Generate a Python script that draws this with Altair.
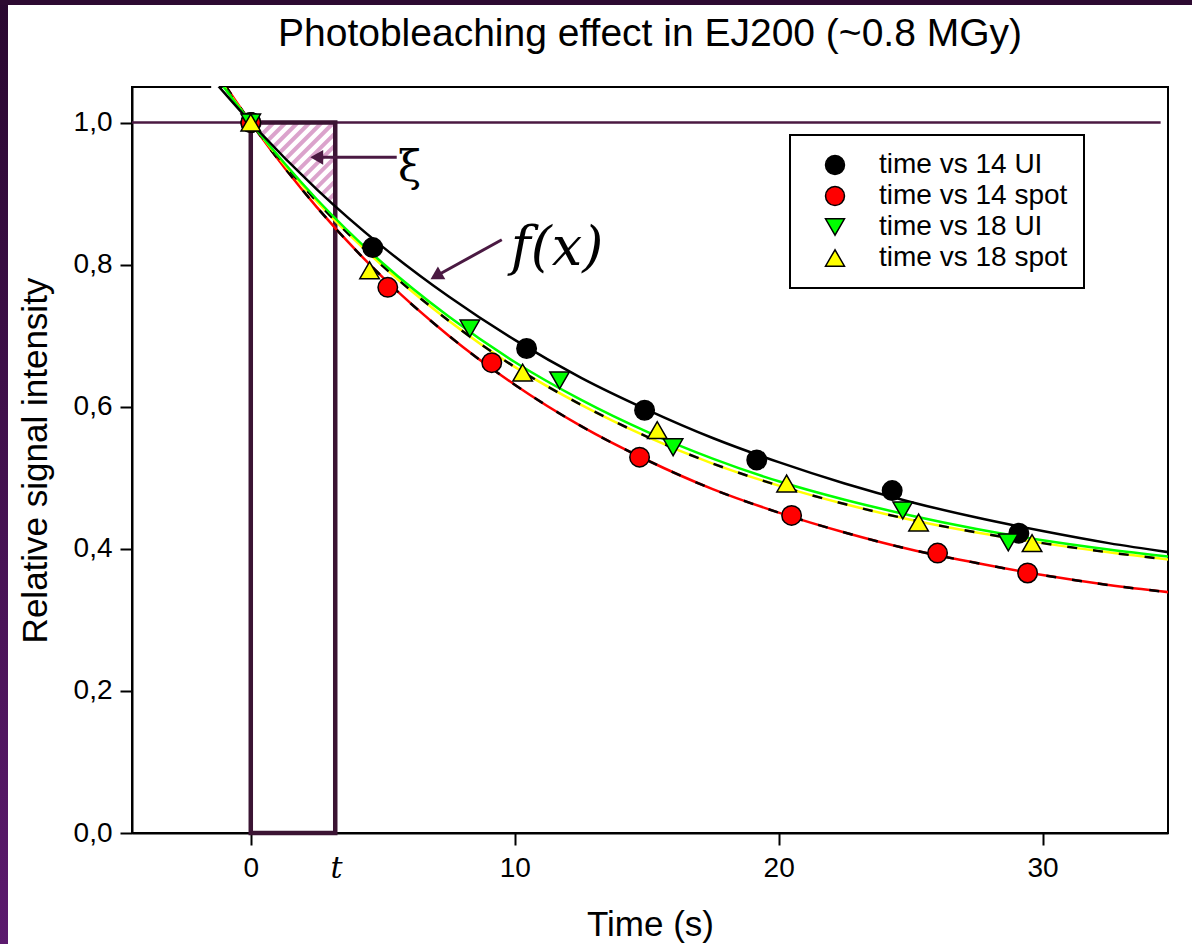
import numpy as np
import pandas as pd
import altair as alt

# ---------------- data ----------------
series_names = ["time vs 14 UI", "time vs 14 spot", "time vs 18 UI", "time vs 18 spot"]
marker_fills = ["#000000", "#ff0000", "#00ff00", "#ffff00"]
marker_shapes = ["circle", "circle", "triangle-down", "triangle-up"]

t_14ui = [0, 4.62, 10.45, 14.92, 19.17, 24.3, 29.1]
v_14ui = [1.0, 0.824, 0.682, 0.595, 0.525, 0.482, 0.422]
t_14spot = [0, 5.19, 9.13, 14.73, 20.49, 26.02, 29.43]
v_14spot = [1.0, 0.768, 0.662, 0.529, 0.447, 0.394, 0.366]
t_18ui = [0, 8.3, 11.7, 16.0, 24.7, 28.7]
v_18ui = [1.0, 0.710, 0.637, 0.543, 0.454, 0.409]
t_18spot = [0, 4.5, 10.3, 15.4, 20.3, 25.3, 29.6]
v_18spot = [1.0, 0.792, 0.648, 0.567, 0.492, 0.437, 0.408]

# fitted curves
fit_t = [-1.5, 0, 2.5, 5, 7.5, 10, 12.5, 15, 17.5, 20, 22.5, 25, 27.5, 30, 32.5, 35]
fit_14ui = [1.063, 1.0, 0.906, 0.825, 0.755, 0.694, 0.641, 0.596, 0.556, 0.522, 0.492, 0.466, 0.444, 0.425, 0.408, 0.394]
fit_14spot = [1.082, 1.0, 0.881, 0.782, 0.700, 0.631, 0.573, 0.525, 0.484, 0.451, 0.423, 0.399, 0.380, 0.363, 0.349, 0.338]
fit_18ui = [1.074, 1.0, 0.892, 0.802, 0.727, 0.663, 0.610, 0.565, 0.527, 0.495, 0.469, 0.447, 0.428, 0.412, 0.399, 0.388]
fit_18spot = [1.076, 1.0, 0.889, 0.798, 0.721, 0.656, 0.603, 0.558, 0.520, 0.489, 0.463, 0.441, 0.423, 0.408, 0.395, 0.384]

x_ticks = [0, 10, 20, 30]
y_ticks = [0.0, 0.2, 0.4, 0.6, 0.8, 1.0]
t_mark = 3.2          # the "t" boundary
ref_level = 1.0       # horizontal reference line
ref_line_end = 34.47

xi_arrow = dict(x=5.53, x2=2.58, y=0.951, y2=0.951)
xi_head = dict(x=2.58, y=0.951)
xi_text = dict(x=6.02, y=0.936)
fx_arrow = dict(x=9.51, y=0.835, x2=7.09, y2=0.7854)
fx_head = dict(x=7.09, y=0.7854)
fx_text = dict(x=9.85, y=0.822)
t_text = dict(x=3.25, y=-0.05)

# ---------------- layout ----------------
X_DOM = [-4.5, 34.75]
Y_DOM = [0, 1.05]
W, H = 1036, 746
PLUM = "#4a1942"
RECT = "#3b1433"
FONT = "Liberation Sans"

xscale = alt.Scale(domain=X_DOM, nice=False, zero=False)
yscale = alt.Scale(domain=Y_DOM, nice=False, zero=False)
xaxis = alt.Axis(values=x_ticks, title="Time (s)", grid=False, tickSize=12, tickWidth=2,
                 tickColor="black", domainColor="black", domainWidth=2,
                 labelFont=FONT, labelFontSize=28, labelColor="black", labelPadding=9,
                 titleFont=FONT, titleFontSize=35, titleFontWeight="normal",
                 titleColor="black", titlePadding=25, labelFlush=False)
yaxis = alt.Axis(values=y_ticks, title="Relative signal intensity", grid=False, tickSize=12,
                 tickWidth=2, tickColor="black", domainColor="black", domainWidth=2,
                 labelFont=FONT, labelFontSize=28, labelColor="black", labelPadding=8,
                 labelExpr="replace(format(datum.value, '.1f'), '.', ',')",
                 titleFont=FONT, titleFontSize=35, titleFontWeight="normal",
                 titleColor="black", titlePadding=20, labelFlush=False)


def X(field="t"):
    return alt.X(field, type="quantitative", scale=xscale, axis=xaxis)


def Y(field="v"):
    return alt.Y(field, type="quantitative", scale=yscale, axis=yaxis)


one = pd.DataFrame({"k": [0]})

# frame strips (outside the plot area)
grad = alt.LinearGradient(gradient="linear",
                          stops=[alt.GradientStop(color="#2a0830", offset=0),
                                 alt.GradientStop(color="#5c1a6e", offset=1)],
                          x1=0, x2=0, y1=0, y2=1)
left_strip = alt.Chart(one).mark_rect(color=grad).encode(
    x=alt.value(-132), x2=alt.value(-124), y=alt.value(-87), y2=alt.value(857))
top_strip = alt.Chart(one).mark_rect(color="#2d0a31").encode(
    x=alt.value(-132), x2=alt.value(1060), y=alt.value(-87), y2=alt.value(-82))

# hatch stripes inside the rectangle, above the curve
kx = W / (X_DOM[1] - X_DOM[0])
ky = H / (Y_DOM[1] - Y_DOM[0])
y_base = 0.85
U = t_mark * kx
V1 = (ref_level - y_base) * ky
segs = []
for c in np.arange(-U, V1, 12.0):
    u0 = max(0.0, -c)
    u1 = min(U, V1 - c)
    if u1 > u0:
        segs.append({"t": u0 / kx, "v": y_base + (u0 + c) / ky,
                     "t2": u1 / kx, "v2": y_base + (u1 + c) / ky})
hatch = alt.Chart(pd.DataFrame(segs)).mark_rule(color="#dba3cc", strokeWidth=4, strokeCap="butt").encode(
    x=X("t"), y=Y("v"), x2="t2:Q", y2="v2:Q")

fit_df = pd.DataFrame({"t": fit_t, "b": fit_14ui, "r": fit_14spot, "g": fit_18ui, "yl": fit_18spot})
mask = alt.Chart(fit_df[fit_df["t"] <= 5]).mark_area(color="white", interpolate="monotone", opacity=1).encode(
    x=X("t"), y=Y("b"), y2=alt.datum(0.75))

# reference line and rectangle
ref_df = pd.DataFrame({"t": [X_DOM[0]], "t2": [ref_line_end], "v": [ref_level]})
ref_line = alt.Chart(ref_df).mark_rule(color=PLUM, strokeWidth=2.5).encode(
    x=X("t"), x2="t2:Q", y=Y("v"))
rect_df = pd.DataFrame({"t": [0.0], "t2": [t_mark], "v": [0.0], "v2": [ref_level]})
rect = alt.Chart(rect_df).mark_rect(fill="transparent", stroke=RECT, strokeWidth=4.5).encode(
    x=X("t"), x2="t2:Q", y=Y("v"), y2="v2:Q")


def curve(col, color, dash=None, width=2.5):
    kw = dict(interpolate="monotone", clip=True, strokeWidth=width, color=color)
    if dash:
        kw["strokeDash"] = dash
    return alt.Chart(fit_df).mark_line(**kw).encode(x=X("t"), y=Y(col))


curves = [
    curve("r", "#ff0000"), curve("r", "black", [10, 16], 2.5),
    curve("yl", "#ffff00"), curve("yl", "black", [10, 16], 2.5),
    curve("g", "#00ff00"),
    curve("b", "black"),
]

# points
rows = []
for name, ts, vs in zip(series_names, [t_14ui, t_14spot, t_18ui, t_18spot],
                        [v_14ui, v_14spot, v_18ui, v_18spot]):
    for t, v in zip(ts, vs):
        rows.append({"t": t, "v": v, "series": name})
pts_df = pd.DataFrame(rows)
pts_df["order"] = pts_df["series"].map({n: i for i, n in enumerate(series_names)})

leg = alt.Legend(title=None, orient="none", legendX=658, legendY=48, padding=16,
                 strokeColor="black", fillColor="white", labelFont=FONT, labelFontSize=28,
                 labelColor="black", labelLimit=400, symbolSize=360, symbolStrokeColor="black",
                 symbolStrokeWidth=1.5, symbolOffset=15, labelOffset=30, rowPadding=3,
                 symbolFillColor="black")
points = alt.Chart(pts_df).mark_point(filled=True, size=380, stroke="black", strokeWidth=1.5, opacity=1).encode(
    x=X("t"), y=Y("v"),
    fill=alt.Fill("series:N", scale=alt.Scale(domain=series_names, range=marker_fills), legend=leg),
    shape=alt.Shape("series:N", scale=alt.Scale(domain=series_names, range=marker_shapes), legend=leg),
    order=alt.Order("order:Q"))

# annotations
xi_line = alt.Chart(pd.DataFrame([xi_arrow])).mark_rule(color=PLUM, strokeWidth=3).encode(
    x=X("x"), x2="x2:Q", y=Y("y"), y2="y2:Q")
xi_arrowhead = alt.Chart(pd.DataFrame([xi_head])).mark_point(
    shape="triangle", angle=270, filled=True, color=PLUM, size=220, opacity=1).encode(x=X("x"), y=Y("y"))
xi_label = alt.Chart(pd.DataFrame([xi_text])).mark_text(
    text="ξ", font="DejaVu Serif", fontSize=42, color="black", align="center", baseline="middle").encode(
    x=X("x"), y=Y("y"))
fx_line = alt.Chart(pd.DataFrame([fx_arrow])).mark_rule(color=PLUM, strokeWidth=3).encode(
    x=X("x"), x2="x2:Q", y=Y("y"), y2="y2:Q")
fx_arrowhead = alt.Chart(pd.DataFrame([fx_head])).mark_point(
    shape="triangle", angle=240, filled=True, color=PLUM, size=220, opacity=1).encode(x=X("x"), y=Y("y"))
fx_label = alt.Chart(pd.DataFrame([fx_text])).mark_text(
    text="f(x)", font="DejaVu Serif", fontStyle="italic", fontSize=54, color="black",
    align="left", baseline="middle").encode(x=X("x"), y=Y("y"))
t_label = alt.Chart(pd.DataFrame([t_text])).mark_text(
    text="t", font="DejaVu Serif", fontStyle="italic", fontSize=30, color="black",
    align="center", baseline="middle").encode(x=X("x"), y=Y("y"))

chart = alt.layer(
    left_strip, top_strip, hatch, mask, ref_line, rect, *curves, points,
    xi_line, xi_arrowhead, xi_label, fx_line, fx_arrowhead, fx_label, t_label
).properties(
    width=W, height=H, padding=0, background="white",
    title=alt.TitleParams("Photobleaching effect in EJ200 (~0.8 MGy)", font=FONT, fontSize=39,
                          fontWeight="normal", color="black", anchor="middle", frame="group",
                          offset=-54)
).configure_view(stroke="black", strokeWidth=2).configure_legend(strokeWidth=2)

chart.save("out.html", embed_options={"renderer": "svg", "actions": False})
